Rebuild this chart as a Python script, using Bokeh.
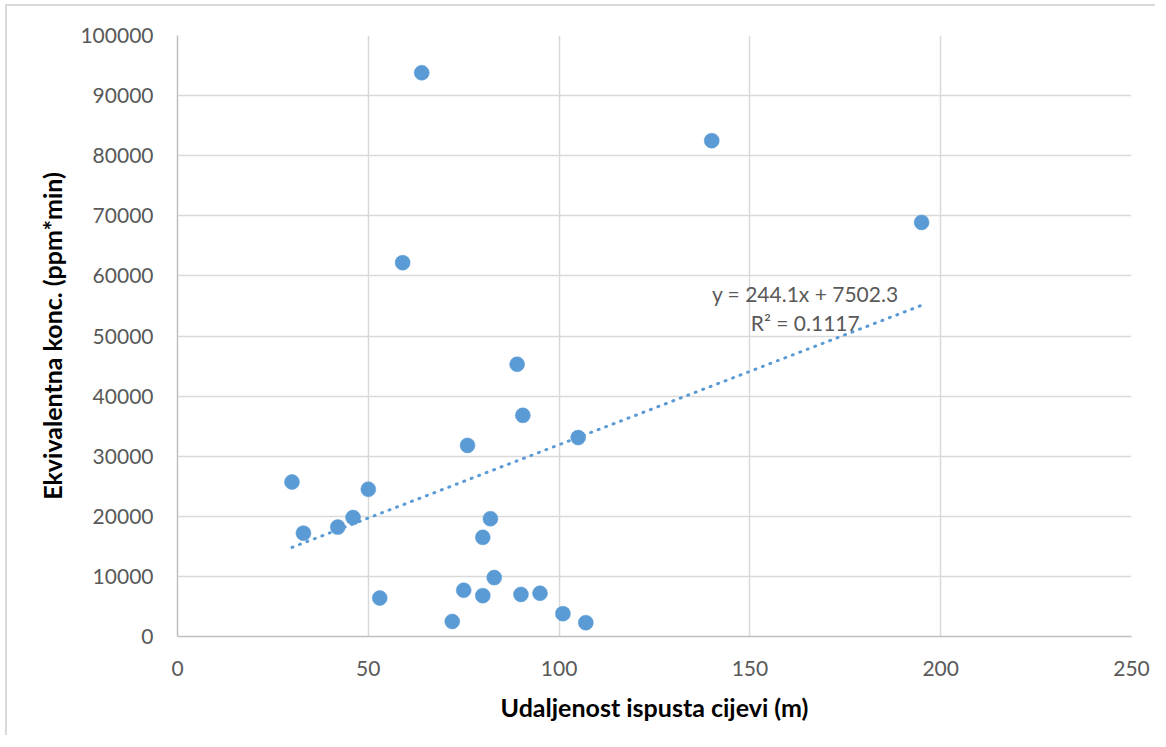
import numpy as np
from bokeh.plotting import figure
from bokeh.models import Range1d, SingleIntervalTicker, BasicTickFormatter, Label, ColumnDataSource
from bokeh.embed import file_html
from bokeh.resources import INLINE

# Data
distance_m = [30, 33, 42, 46, 50, 53, 59, 64, 72, 75, 76, 80, 80, 82, 83,
              89, 90, 90.5, 95, 101, 105, 107, 140, 195]
equiv_conc = [25700, 17200, 18200, 19800, 24500, 6400, 62200, 93800, 2500, 7700,
              31800, 16500, 6800, 19600, 9800, 45300, 7000, 36800, 7200, 3800,
              33100, 2300, 82500, 68900]

trend_slope = 244.1
trend_intercept = 7502.3
r_squared = 0.1117

x_title = "Udaljenost ispusta cijevi (m)"
y_title = "Ekvivalentna konc. (ppm*min)"

BLUE = "#5B9BD5"
GRID = "#D9D9D9"
TICK_TXT = "#595959"
FONT = "Lato"

p = figure(width=1150, height=731, output_backend="svg", toolbar_location=None,
           x_range=Range1d(0, 250), y_range=Range1d(0, 100000),
           min_border_left=170, min_border_right=26, min_border_top=29, min_border_bottom=101)
p.margin = (4, 0, 0, 5)
p.styles = {"border-left": "2px solid #D9D9D9", "border-top": "2px solid #D9D9D9"}
p.outline_line_color = None
p.background_fill_color = "white"
p.border_fill_color = "white"

for ax in (p.xaxis, p.yaxis):
    ax.axis_line_color = "#BFBFBF"
    ax.axis_line_width = 1.5
    ax.major_tick_line_color = None
    ax.minor_tick_line_color = None
    ax.major_label_text_font = FONT
    ax.major_label_text_font_size = "21px"
    ax.major_label_text_color = TICK_TXT
    ax.axis_label_text_font = FONT
    ax.axis_label_text_font_style = "bold"
    ax.axis_label_text_font_size = "25px"
    ax.axis_label_text_color = "black"

p.xaxis.ticker = SingleIntervalTicker(interval=50)
p.yaxis.ticker = SingleIntervalTicker(interval=10000)
p.yaxis.formatter = BasicTickFormatter(use_scientific=False)
p.xaxis.major_label_standoff = 18
p.yaxis.major_label_standoff = 18
p.xaxis.axis_label = x_title
p.yaxis.axis_label = y_title
p.xaxis.axis_label_standoff = 13
p.yaxis.axis_label_standoff = 10

p.xgrid.ticker = SingleIntervalTicker(interval=50)
p.ygrid.ticker = SingleIntervalTicker(interval=10000)
for g in (p.xgrid, p.ygrid):
    g.grid_line_color = GRID
    g.grid_line_width = 1.5

# Trend line from the fitted equation over the data range
tx = np.array([min(distance_m), max(distance_m)])
ty = trend_slope * tx + trend_intercept
p.line(tx, ty, line_color=BLUE, line_width=3, line_dash="1 7", line_cap="round")

src = ColumnDataSource(dict(x=distance_m, y=equiv_conc))
p.scatter("x", "y", source=src, size=15, fill_color=BLUE, line_color=BLUE, line_width=0.5)

eq_text = f"y = {trend_slope}x + {trend_intercept}"
r2_text = f"R\u00b2 = {r_squared}"
p.add_layout(Label(x=164.5, y=57000, text=eq_text, text_align="center", text_baseline="middle",
                   text_font=FONT, text_font_size="21px", text_color=TICK_TXT))
p.add_layout(Label(x=164.5, y=52300, text=r2_text, text_align="center", text_baseline="middle",
                   text_font=FONT, text_font_size="21px", text_color=TICK_TXT))

open("out.html", "w").write(file_html(p, INLINE))
